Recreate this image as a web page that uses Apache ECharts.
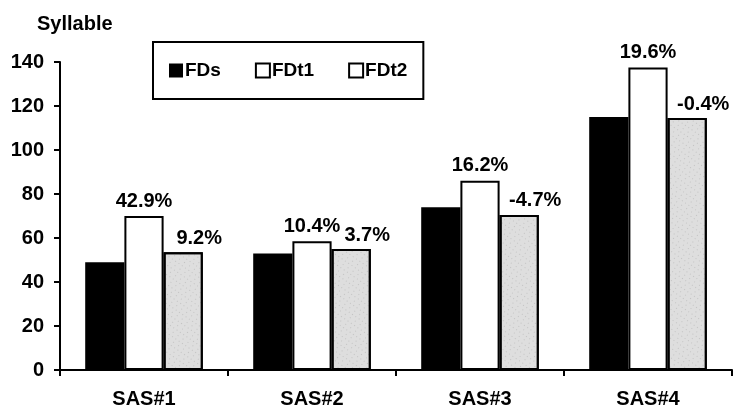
<!DOCTYPE html>
<html>
<head>
<meta charset="utf-8">
<script src="https://cdn.jsdelivr.net/npm/echarts@6/dist/echarts.min.js"></script>
<style>html,body{margin:0;padding:0;background:#fff;}#c{width:733px;height:409px;}</style>
</head>
<body>
<div id="c"></div>
<script>
var categories = ['SAS#1', 'SAS#2', 'SAS#3', 'SAS#4'];
var fds  = [49, 53, 74, 115];
var fdt1 = [70, 58.5, 86, 137.5];
var fdt2 = [53.5, 55, 70.5, 114.5];
var pct1 = ['42.9%', '10.4%', '16.2%', '19.6%'];
var pct2 = ['9.2%', '3.7%', '-4.7%', '-0.4%'];
var yTicks = [0, 20, 40, 60, 80, 100, 120, 140];

var FONT = '"Liberation Sans", Arial, sans-serif';
var chart = echarts.init(document.getElementById('c'), null, {renderer: 'canvas'});
chart.setOption({
  animation: false,
  backgroundColor: '#fff',
  title: {
    text: 'Syllable', left: 32, top: 9,
    textStyle: {fontFamily: FONT, fontWeight: 'bold', fontSize: 20, color: '#000'}
  },
  legend: {
    left: 153, top: 42, width: 280, height: 58,
    orient: 'horizontal',
    padding: [19, 16, 19, 16],
    borderColor: '#000', borderWidth: 2,
    itemGap: 34, itemWidth: 14, itemHeight: 14,
    icon: 'rect',
    textStyle: {fontFamily: FONT, fontWeight: 'bold', fontSize: 19, color: '#000', padding: [0, 0, 0, -3]},
    data: [
      {name: 'FDs', itemStyle: {color: '#000', borderColor: '#000', borderWidth: 0}},
      {name: 'FDt1', itemStyle: {color: '#fff', borderColor: '#000', borderWidth: 2}},
      {name: 'FDt2', itemStyle: {color: '#fff', borderColor: '#000', borderWidth: 2, decal: 'none'}}
    ]
  },
  grid: {left: 60, right: 1, top: 62, bottom: 38, containLabel: false},
  xAxis: {
    type: 'category', data: categories,
    axisLine: {lineStyle: {color: '#000', width: 2}},
    axisTick: {show: true, length: 6, lineStyle: {color: '#000', width: 2}},
    axisLabel: {margin: 19, fontFamily: FONT, fontWeight: 'bold', fontSize: 20, color: '#000'}
  },
  yAxis: {
    type: 'value', min: yTicks[0], max: yTicks[yTicks.length - 1], interval: 20,
    axisLine: {show: true, lineStyle: {color: '#000', width: 2}},
    axisTick: {show: true, length: 6, lineStyle: {color: '#000', width: 2}},
    splitLine: {show: false},
    axisLabel: {margin: 16, fontFamily: FONT, fontWeight: 'bold', fontSize: 20, color: '#000'}
  },
  series: [
    {
      name: 'FDs', type: 'bar', data: fds,
      barGap: '0%', barCategoryGap: '30%',
      itemStyle: {color: '#000'}
    },
    {
      name: 'FDt1', type: 'bar', data: fdt1,
      itemStyle: {color: '#fff', borderColor: '#000', borderWidth: 2},
      label: {show: true, position: 'top', distance: 5,
        formatter: function (p) { return pct1[p.dataIndex]; },
        fontFamily: FONT, fontWeight: 'bold', fontSize: 20, color: '#000'}
    },
    {
      name: 'FDt2', type: 'bar', data: fdt2,
      itemStyle: {
        color: '#dedede', borderColor: '#000', borderWidth: 2,
        decal: {symbol: 'circle', symbolSize: 0.7, color: 'rgba(40,40,40,0.6)',
          dashArrayX: [[1, 3], [1, 5]], dashArrayY: [1, 3], rotation: 0.6}
      },
      label: {show: true, position: 'top', distance: 4, offset: [16, 0],
        formatter: function (p) { return pct2[p.dataIndex]; },
        fontFamily: FONT, fontWeight: 'bold', fontSize: 20, color: '#000'}
    }
  ]
});
</script>
</body>
</html>
